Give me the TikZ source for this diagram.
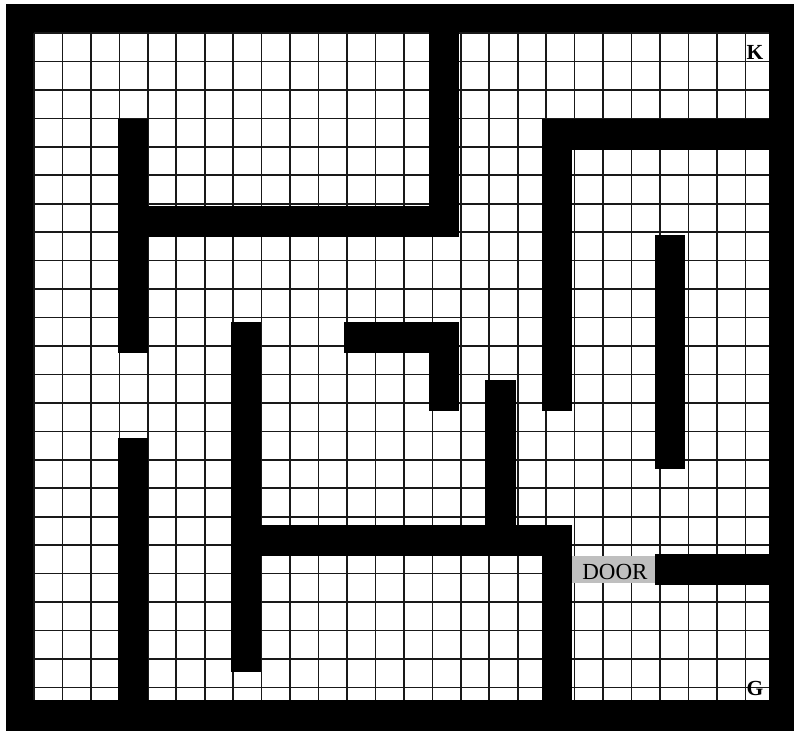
\documentclass[tikz,border=0pt]{standalone}
\usepackage{fontspec}
\setmainfont{Liberation Serif}
\begin{document}
\begin{tikzpicture}[x=28.2692pt,y=-29pt,
  gridline/.style={draw=black!90,line width=1.6pt},
  wall/.style={fill=black,draw=black,line width=2pt},
  doorcell/.style={fill=black!25},
  lbl/.style={inner sep=0pt,anchor=base,text=black}]
\useasboundingbox (-1.20272,-1.13793) rectangle (26.8843,24.0345);
% outer black frame
\fill[black] (-0.99,-1.0) rectangle (27.5,25);
% inner white field and grid
\fill[white] (0,0) rectangle (26,23);
\draw[gridline] (0,0) grid (26,23);
% walls
\filldraw[wall] (14,-0.9) rectangle (15,7);
\filldraw[wall] (3,6) rectangle (15,7);
\filldraw[wall] (3,3) rectangle (4,11);
\filldraw[wall] (18,3) rectangle (26.5,4);
\filldraw[wall] (18,3) rectangle (19,13);
\filldraw[wall] (22,7) rectangle (23,15);
\filldraw[wall] (11,10) rectangle (15,11);
\filldraw[wall] (14,10) rectangle (15,13);
\filldraw[wall] (16,12) rectangle (17,18);
\filldraw[wall] (7,10) rectangle (8,22);
\filldraw[wall] (7,17) rectangle (19,18);
\filldraw[wall] (18,17) rectangle (19,23.5);
\filldraw[wall] (22,18) rectangle (26.5,19);
\filldraw[wall] (3,14) rectangle (4,23.5);
% door
\fill[doorcell] (19.03,18.03) rectangle (21.97,18.97);
% labels
\node[lbl,font=\bfseries\fontsize{21.5}{22}\selectfont] (K) at (25.5,0.9) {K};
\node[lbl,font=\bfseries\fontsize{21.5}{22}\selectfont] (G) at (25.5,22.83) {G};
\node[lbl,font=\fontsize{23}{24}\selectfont] (D) at (20.55,18.86) {DOOR};
\end{tikzpicture}
\end{document}
